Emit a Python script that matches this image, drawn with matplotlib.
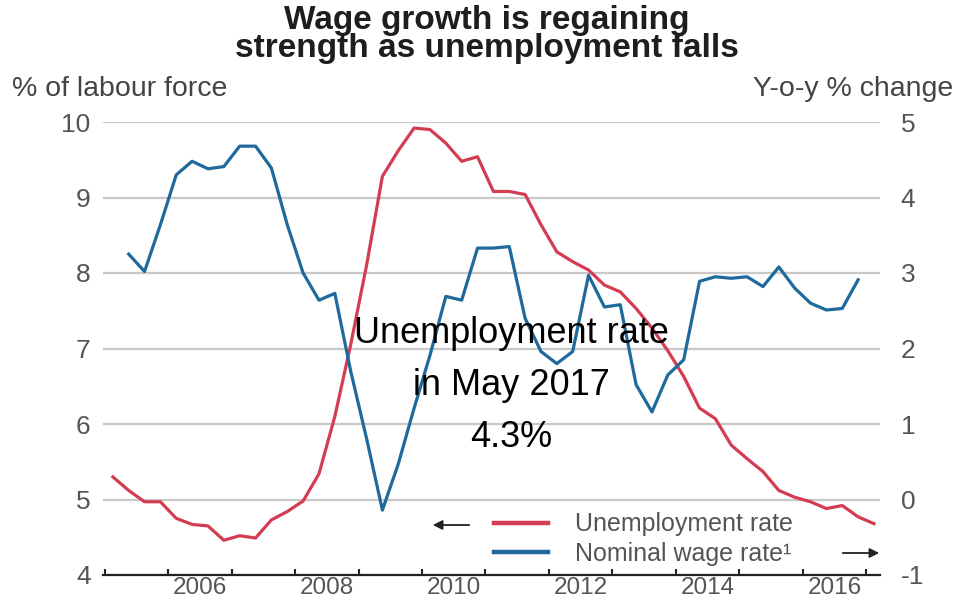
import numpy as np
import pandas as pd
import matplotlib
matplotlib.use('Agg')
import matplotlib.pyplot as plt
from matplotlib.lines import Line2D

plt.rcParams['font.family'] = ['Liberation Sans', 'DejaVu Sans']
plt.rcParams['axes.unicode_minus'] = False

# quarterly series, plotted at mid-quarter
unemp_quarters = pd.period_range('2005Q1', '2017Q1', freq='Q')
unemployment = [5.30, 5.12, 4.97, 4.97, 4.75, 4.67, 4.65, 4.46, 4.52, 4.49,
                4.73, 4.84, 4.98, 5.34, 6.10, 7.05, 8.10, 9.28, 9.62, 9.92,
                9.90, 9.72, 9.48, 9.54, 9.08, 9.08, 9.04, 8.64, 8.28, 8.15,
                8.04, 7.84, 7.75, 7.53, 7.27, 6.97, 6.63, 6.21, 6.07, 5.72,
                5.54, 5.37, 5.12, 5.03, 4.97, 4.88, 4.92, 4.77, 4.68]

wage_quarters = pd.period_range('2005Q2', '2016Q4', freq='Q')
wage_growth = [3.25, 3.02, 3.64, 4.30, 4.48, 4.38, 4.41, 4.68, 4.68, 4.39,
               3.64, 3.00, 2.64, 2.73, 1.70, 0.81, -0.14, 0.47, 1.21, 1.91,
               2.69, 2.64, 3.33, 3.33, 3.35, 2.40, 1.96, 1.80, 1.96, 2.97,
               2.55, 2.58, 1.52, 1.16, 1.65, 1.85, 2.89, 2.95, 2.93, 2.95,
               2.82, 3.08, 2.80, 2.60, 2.51, 2.53, 2.91]

year_ticks = list(range(2005, 2018))
year_labels = ['2006', '2008', '2010', '2012', '2014', '2016']
left_ticks = [4, 5, 6, 7, 8, 9, 10]
right_ticks = [-1, 0, 1, 2, 3, 4, 5]


def mid_quarter(periods):
    return np.array([p.year + (p.quarter - 1) * 0.25 + 0.125 for p in periods])


RED = '#d43c52'
BLUE = '#1f6a9c'
GREY = '#555555'

W, H = 955, 599
fig = plt.figure(figsize=(W / 100, H / 100), dpi=100)
ax = fig.add_axes([103 / W, 1 - 575 / H, 777 / W, 453 / H])
ax2 = ax.twinx()

ax.plot(mid_quarter(unemp_quarters), unemployment, color=RED, lw=2.3,
        solid_joinstyle='round', zorder=3)
ax2.plot(mid_quarter(wage_quarters), wage_growth, color=BLUE, lw=2.3,
         solid_joinstyle='round', zorder=3)

ax.set_xlim(2004.97, 2017.22)
ax.set_ylim(4, 10)
ax2.set_ylim(-1, 5)

for a in (ax, ax2):
    for s in a.spines.values():
        s.set_visible(False)
ax.spines['bottom'].set_visible(True)
ax.spines['bottom'].set_linewidth(1.6)
ax.spines['bottom'].set_color('#222222')

ax.set_yticks(left_ticks)
ax.yaxis.grid(True, color='#c8c8c8', lw=1.6)
ax.set_axisbelow(True)
ax.tick_params(axis='y', length=0, pad=9, labelsize=19, labelcolor=GREY)
ax2.set_yticks(right_ticks)
ax2.tick_params(axis='y', length=0, pad=15, labelsize=19, labelcolor=GREY)

ax.set_xticks(year_ticks)
ax.set_xticklabels([])
ax.set_xticks([int(y) + 0.5 for y in year_labels], minor=True)
ax.set_xticklabels(year_labels, minor=True)
ax.tick_params(axis='x', which='major', direction='in', length=4.5,
               width=1.5, color='#222222')
ax.tick_params(axis='x', which='minor', length=0, pad=1.5, labelsize=17.5,
               labelcolor=GREY)

# titles and axis units
fig.text(487 / W, 1 - 29 / H, 'Wage growth is regaining', ha='center',
         va='baseline', fontsize=24, fontweight='bold', color='#1e1e1e')
fig.text(487 / W, 1 - 57 / H, 'strength as unemployment falls', ha='center',
         va='baseline', fontsize=24, fontweight='bold', color='#1e1e1e')
fig.text(12 / W, 1 - 96 / H, '% of labour force', ha='left', va='baseline',
         fontsize=20.5, color='#444444')
fig.text(753 / W, 1 - 96 / H, 'Y-o-y % change', ha='left', va='baseline',
         fontsize=20.5, color='#444444')

# legend with side arrows
handles = [Line2D([], [], color=RED, lw=3.2), Line2D([], [], color=BLUE, lw=3.2)]
fig.legend(handles, ['Unemployment rate', 'Nominal wage rate\u00b9'],
           loc='center left', bbox_to_anchor=(494 / W, 1 - 539 / H),
           frameon=False, fontsize=18, labelcolor=GREY, handlelength=2.16,
           handletextpad=1.08, labelspacing=0.22, borderpad=0, borderaxespad=0)
arrow = dict(arrowstyle='-|>', color='#222222', lw=1.3, mutation_scale=14)
ax.annotate('', xy=(430, H - 525), xytext=(472, H - 525),
            xycoords='figure pixels', textcoords='figure pixels',
            arrowprops=arrow)
ax.annotate('', xy=(882, H - 553), xytext=(840, H - 553),
            xycoords='figure pixels', textcoords='figure pixels',
            arrowprops=arrow)

# overlay note
for txt, base in [('Unemployment rate', 343), ('in May 2017', 395), ('4.3%', 447)]:
    fig.text(511 / W, 1 - base / H, txt, ha='center', va='baseline',
             fontsize=26, color='black', zorder=10)

fig.savefig('out.png', dpi=100)
